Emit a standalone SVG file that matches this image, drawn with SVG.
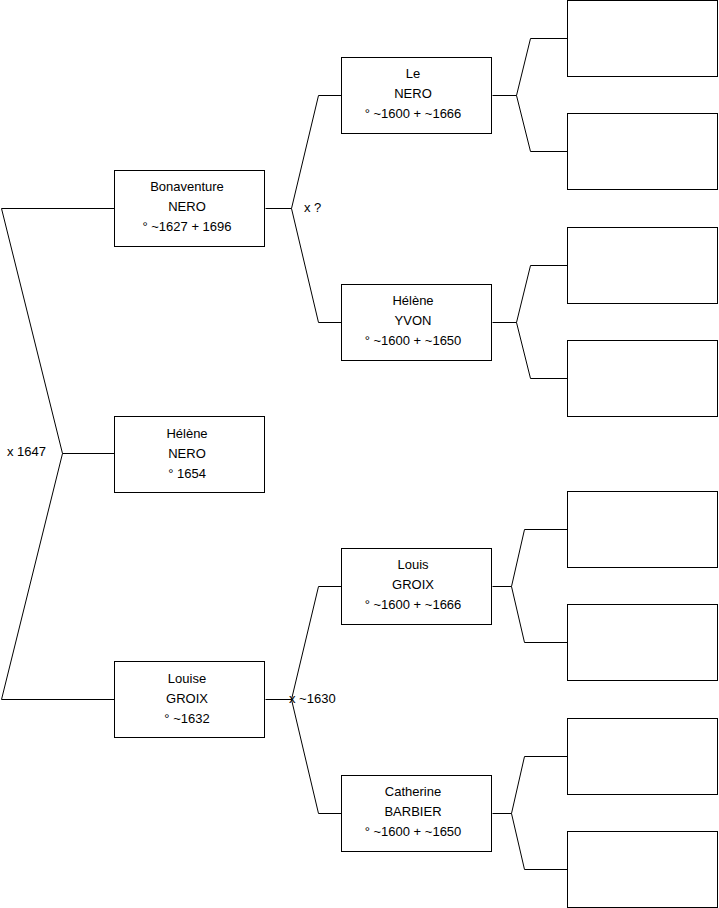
<svg xmlns="http://www.w3.org/2000/svg" width="719" height="908" viewBox="0 0 719 908">
<style>
.box{fill:#fff;stroke:#000;stroke-width:1}
.ln{fill:none;stroke:#000;stroke-width:1}
text{font-family:"Liberation Sans",Arial,sans-serif;font-size:13px;fill:#000}
.c{text-anchor:middle}
</style>
<rect width="719" height="908" fill="#fff"/>
<g id="connectors">
<path class="ln" d="M114.5,208.5H1.5L62.5,453.5L1.5,699.5H114.5M62.5,453.5H114.5"/>
<path class="ln" d="M265.5,208.5H291.5L318.5,95.5H341.5M291.5,208.5L318.5,322.5H341.5"/>
<path class="ln" d="M265.5,699.5H291.5L318.5,586.5H341.5M291.5,699.5L318.5,813.5H341.5"/>
<path class="ln" d="M492.5,95.5H516.5L530.5,38.5H567.5M516.5,95.5L530.5,151.5H567.5"/>
<path class="ln" d="M492.5,322.5H516.5L530.5,265.5H567.5M516.5,322.5L530.5,378.5H567.5"/>
<path class="ln" d="M492.5,586.5H511.5L524.5,529.5H567.5M511.5,586.5L524.5,642.5H567.5"/>
<path class="ln" d="M492.5,813.5H511.5L524.5,756.5H567.5M511.5,813.5L524.5,869.5H567.5"/>
<text x="7" y="456">x 1647</text>
<text x="304" y="212">x ?</text>
<text x="289" y="703">x ~1630</text>
</g>
<g id="bonaventure"><rect class="box" x="114.5" y="170.5" width="150" height="76"/><text class="c" x="187" y="191">Bonaventure</text><text class="c" x="187" y="211">NERO</text><text class="c" x="187" y="231">° ~1627 + 1696</text></g>
<g id="helene-nero"><rect class="box" x="114.5" y="416.5" width="150" height="76"/><text class="c" x="187" y="438">Hélène</text><text class="c" x="187" y="458">NERO</text><text class="c" x="187" y="478">° 1654</text></g>
<g id="louise"><rect class="box" x="114.5" y="661.5" width="150" height="76"/><text class="c" x="187" y="683">Louise</text><text class="c" x="187" y="703">GROIX</text><text class="c" x="187" y="723">° ~1632</text></g>
<g id="le-nero"><rect class="box" x="341.5" y="57.5" width="150" height="76"/><text class="c" x="413" y="78">Le</text><text class="c" x="413" y="98">NERO</text><text class="c" x="413" y="118">° ~1600 + ~1666</text></g>
<g id="helene-yvon"><rect class="box" x="341.5" y="284.5" width="150" height="76"/><text class="c" x="413" y="305">Hélène</text><text class="c" x="413" y="325">YVON</text><text class="c" x="413" y="345">° ~1600 + ~1650</text></g>
<g id="louis"><rect class="box" x="341.5" y="548.5" width="150" height="76"/><text class="c" x="413" y="569">Louis</text><text class="c" x="413" y="589">GROIX</text><text class="c" x="413" y="609">° ~1600 + ~1666</text></g>
<g id="catherine"><rect class="box" x="341.5" y="775.5" width="150" height="76"/><text class="c" x="413" y="796">Catherine</text><text class="c" x="413" y="816">BARBIER</text><text class="c" x="413" y="836">° ~1600 + ~1650</text></g>
<g id="g3-1"><rect class="box" x="567.5" y="0.5" width="150" height="76"/></g>
<g id="g3-2"><rect class="box" x="567.5" y="113.5" width="150" height="76"/></g>
<g id="g3-3"><rect class="box" x="567.5" y="227.5" width="150" height="76"/></g>
<g id="g3-4"><rect class="box" x="567.5" y="340.5" width="150" height="76"/></g>
<g id="g3-5"><rect class="box" x="567.5" y="491.5" width="150" height="76"/></g>
<g id="g3-6"><rect class="box" x="567.5" y="604.5" width="150" height="76"/></g>
<g id="g3-7"><rect class="box" x="567.5" y="718.5" width="150" height="76"/></g>
<g id="g3-8"><rect class="box" x="567.5" y="831.5" width="150" height="76"/></g>
</svg>
